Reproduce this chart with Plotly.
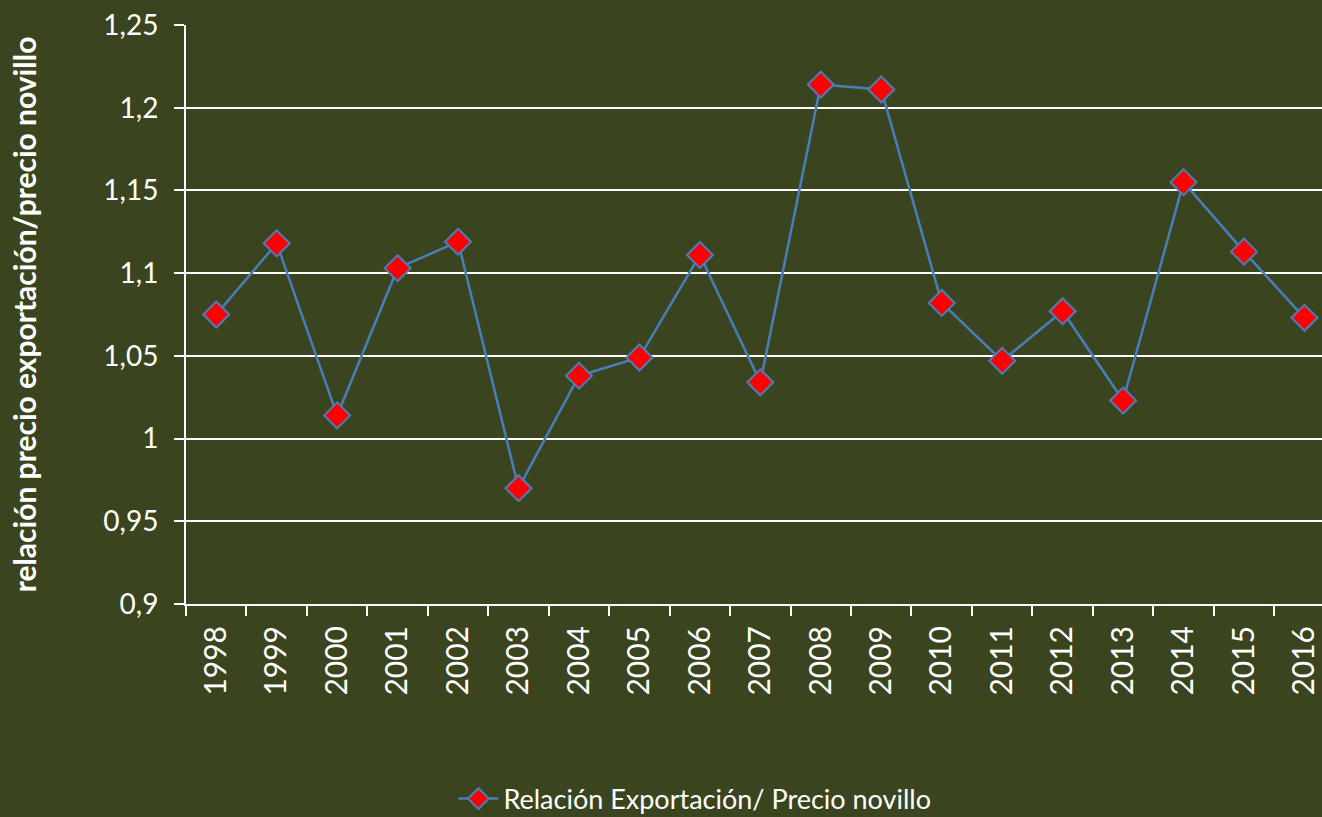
import plotly.graph_objects as go

years = ["1998","1999","2000","2001","2002","2003","2004","2005","2006","2007",
         "2008","2009","2010","2011","2012","2013","2014","2015","2016"]
ratio = [1.075, 1.118, 1.014, 1.103, 1.119, 0.970, 1.038, 1.049, 1.111, 1.034,
         1.214, 1.211, 1.082, 1.047, 1.077, 1.023, 1.155, 1.113, 1.073]
series_name = "Relación Exportación/ Precio novillo"
y_title = "relación precio exportación/precio novillo"
y_ticks = [0.9, 0.95, 1.0, 1.05, 1.1, 1.15, 1.2, 1.25]

BG = "#3A4520"
BLUE = "#4A7EBB"
FONT = "Lato"

fig = go.Figure()
fig.add_trace(go.Scatter(
    x=years, y=ratio, name=series_name, mode="lines+markers",
    line=dict(color=BLUE, width=2.5),
    marker=dict(symbol="diamond", size=20, color="#FF0000",
                line=dict(color=BLUE, width=2)),
))

fig.update_layout(
    width=1322, height=817,
    paper_bgcolor=BG, plot_bgcolor=BG,
    margin=dict(l=186, r=0, t=25, b=213, autoexpand=False),
    font=dict(family=FONT, color="white"),
    separators=", ",
    showlegend=True,
    legend=dict(orientation="h", x=0.448, xanchor="center", y=0.022, yanchor="middle",
                yref="container", font=dict(size=27, color="white"),
                bgcolor="rgba(0,0,0,0)", itemwidth=40),
)
fig.update_xaxes(
    type="category", range=[-0.5, 18.29], tickson="boundaries",
    ticks="outside", ticklen=10, tickwidth=2, tickcolor="white",
    showline=True, linecolor="white", linewidth=2,
    showgrid=False, tickangle=-90, tickfont=dict(size=30, color="white"),
    ticklabelstandoff=8,
)
fig.update_yaxes(
    range=[0.9, 1.25], tickvals=y_ticks,
    ticks="outside", ticklen=10, tickwidth=2, tickcolor="white",
    showline=True, linecolor="white", linewidth=2,
    showgrid=True, gridcolor="white", gridwidth=2, zeroline=False,
    tickfont=dict(size=28, color="white"), ticklabelstandoff=10,
    title=dict(text="<b>" + y_title + "</b>", font=dict(size=30, color="white"), standoff=58),
)

fig.write_html("out.html", config={"displayModeBar": False},
               post_script="document.body.style.margin='0';document.body.style.overflow='hidden';")
